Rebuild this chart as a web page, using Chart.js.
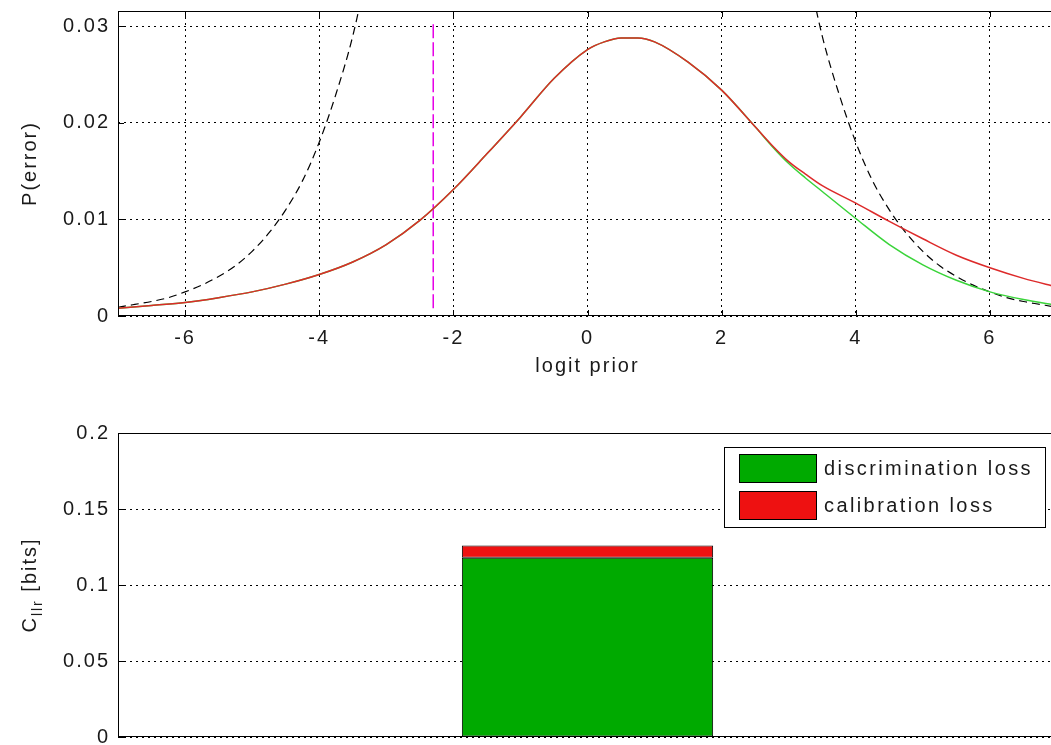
<!DOCTYPE html>
<html>
<head>
<meta charset="utf-8">
<script src="https://cdn.jsdelivr.net/npm/chart.js@4/dist/chart.umd.min.js"></script>
<style>
  html, body { margin: 0; padding: 0; background: #fff; overflow: hidden; }
  body { width: 1051px; height: 745px; position: relative; }
  canvas { position: absolute; left: 0; }
  #top { top: 0; }
  #bottom { top: 390px; }
</style>
</head>
<body>
<canvas id="top" width="1062" height="390"></canvas>
<canvas id="bottom" width="1062" height="355"></canvas>
<script>
// values
const logitPrior = [-7, -6.5, -6, -5.5, -5, -4.5, -4, -3.5, -3, -2.5, -2, -1.5, -1, -0.5, 0,
  0.25, 0.5, 0.75, 1, 1.5, 2, 2.5, 2.75, 3, 3.25, 3.5, 4, 4.5, 5, 5.5, 6, 6.5, 7];
const actualPe = [0.0008, 0.0011, 0.0014, 0.0019, 0.0025, 0.0033, 0.0043, 0.0056, 0.0074, 0.0099,
  0.0131, 0.0168, 0.0206, 0.0246, 0.0276,
  0.0284, 0.0288, 0.0288, 0.0284, 0.0263, 0.0234, 0.0196, 0.0177, 0.0160, 0.0147, 0.0135,
  0.0117, 0.0098, 0.0080, 0.0063, 0.0050, 0.0039, 0.0030];
const minPe = [0.0008, 0.0011, 0.0014, 0.0019, 0.0025, 0.0033, 0.0043, 0.0056, 0.0074, 0.0099,
  0.0131, 0.0168, 0.0206, 0.0246, 0.0276,
  0.0284, 0.0288, 0.0288, 0.0284, 0.0263, 0.0234, 0.0196, 0.0176, 0.0158, 0.0143, 0.0129,
  0.0101, 0.0074, 0.0053, 0.0037, 0.0025, 0.0017, 0.0011];
const defaultX = [-7, -6.75, -6.5, -6.25, -6, -5.75, -5.5, -5.25, -5, -4.75, -4.5, -4.25, -4, -3.75, -3.5, -3.25,
  0, 3.25, 3.5, 3.75, 4, 4.25, 4.5, 4.75, 5, 5.25, 5.5, 5.75, 6, 6.25, 6.5, 6.75, 7];
const defaultPe = [0.0009, 0.0012, 0.0015, 0.0019, 0.0025, 0.0032, 0.0041, 0.0052, 0.0067, 0.0086, 0.011, 0.014, 0.018, 0.023, 0.029, 0.037,
  null, 0.037, 0.029, 0.023, 0.018, 0.014, 0.011, 0.0086, 0.0067, 0.0052, 0.0041, 0.0032, 0.0025, 0.0019, 0.0015, 0.0012, 0.0009];
const thresholdX = -2.3;
const thresholdSpan = [0.0008, 0.0306];
const xTicksTop = [-6, -4, -2, 0, 2, 4, 6];
const yTicksTop = [0, 0.01, 0.02, 0.03];

const lossLabels = ['discrimination loss', 'calibration loss'];
const discriminationLoss = [0.118];
const calibrationLoss = [0.008];
const yTicksBottom = [0, 0.05, 0.1, 0.15, 0.2];
const bottomTitle = ['C', 'llr', ' [bits]'];

const FONT = "'Liberation Sans', Arial, sans-serif";
const SPACING = '2px';
const INK = '#1a1a1a';

Chart.defaults.font.family = FONT;
Chart.defaults.font.size = 20;
Chart.defaults.color = INK;

const pts = (xs, ys) => xs.map((x, i) => ({ x, y: ys[i] }));
const fixTicks = (vals) => (scale) => { scale.ticks = vals.map((v) => ({ value: v })); };
// fixed axis width, and no extra room for the end labels
const fitY = (s) => { s.width = 118; s.paddingTop = 0; s.paddingBottom = 0; };

// the old figure's text is spaced out a bit
const spacing = {
  id: 'spacing',
  beforeLayout(c) { c.ctx.letterSpacing = SPACING; },
  beforeDraw(c) { c.ctx.letterSpacing = SPACING; },
};

// matlab style box: full frame plus inward ticks on all sides
const boxAxes = {
  id: 'boxAxes',
  afterDatasetsDraw(c, args, opts) {
    const { ctx, chartArea: a } = c;
    const len = 6;
    ctx.save();
    ctx.setLineDash([]);
    ctx.strokeStyle = '#000';
    ctx.lineWidth = 1;
    ctx.strokeRect(a.left + 0.5, a.top + 0.5, a.right - a.left - 1, a.bottom - a.top - 1);
    ctx.beginPath();
    if (opts.xTicks) {
      c.scales.x.ticks.forEach((t) => {
        const px = Math.round(c.scales.x.getPixelForValue(t.value)) + 0.5;
        ctx.moveTo(px, a.bottom); ctx.lineTo(px, a.bottom - len);
        ctx.moveTo(px, a.top); ctx.lineTo(px, a.top + len);
      });
    }
    c.scales.y.ticks.forEach((t) => {
      const py = Math.round(c.scales.y.getPixelForValue(t.value)) + 0.5;
      ctx.moveTo(a.left, py); ctx.lineTo(a.left + len, py);
      ctx.moveTo(a.right, py); ctx.lineTo(a.right - len, py);
    });
    ctx.stroke();
    ctx.restore();
  },
};

// legend box in the upper right corner of the axes
const boxLegend = {
  id: 'boxLegend',
  afterDraw(c) {
    const { ctx, chartArea: a } = c;
    const sets = c.data.datasets;
    ctx.save();
    ctx.font = '20px ' + FONT;
    ctx.letterSpacing = '2.4px';
    const textW = Math.max(...sets.map((d) => ctx.measureText(d.label).width));
    const swW = 77, swH = 28, rowH = 37, padL = 15, gap = 8, padR = 12, padT = 7, padB = 8;
    const w = padL + swW + gap + textW + padR;
    const h = padT + rowH * (sets.length - 1) + swH + padB;
    const right = a.right - 12;
    const left = right - w;
    const top = a.top + 14;
    ctx.fillStyle = '#fff';
    ctx.fillRect(left, top, w, h);
    ctx.strokeStyle = '#000';
    ctx.lineWidth = 1;
    ctx.strokeRect(Math.round(left) + 0.5, top + 0.5, Math.round(w), h);
    sets.forEach((d, i) => {
      const y = top + padT + i * rowH;
      ctx.fillStyle = d.backgroundColor;
      ctx.fillRect(left + padL, y, swW, swH);
      ctx.strokeRect(Math.round(left + padL) + 0.5, y + 0.5, swW, swH);
      ctx.fillStyle = INK;
      ctx.textBaseline = 'middle';
      ctx.fillText(d.label, left + padL + swW + gap, y + swH / 2 + 1);
    });
    ctx.restore();
  },
};

// rotated y title with a subscript
const subTitle = {
  id: 'subTitle',
  afterDraw(c) {
    const { ctx, chartArea: a } = c;
    const [base, sub, rest] = bottomTitle;
    ctx.save();
    ctx.translate(36, (a.top + a.bottom) / 2);
    ctx.rotate(-Math.PI / 2);
    ctx.fillStyle = INK;
    ctx.letterSpacing = SPACING;
    ctx.textBaseline = 'alphabetic';
    ctx.font = '20px ' + FONT;
    const wBase = ctx.measureText(base).width;
    const wRest = ctx.measureText(rest).width;
    ctx.font = '14px ' + FONT;
    const wSub = ctx.measureText(sub).width;
    let x = -(wBase + wSub + wRest) / 2;
    ctx.font = '20px ' + FONT;
    ctx.fillText(base, x, 0);
    x += wBase;
    ctx.font = '14px ' + FONT;
    ctx.fillText(sub, x, 6);
    x += wSub;
    ctx.font = '20px ' + FONT;
    ctx.fillText(rest, x, 0);
    ctx.restore();
  },
};

const dotted = { display: false, dash: [2, 4] };
const gridStyle = { color: '#000', lineWidth: 1, drawTicks: false };

new Chart(document.getElementById('top'), {
  type: 'line',
  data: {
    datasets: [
      { label: 'actual', data: pts(logitPrior, actualPe), borderColor: '#dd2a2a', borderWidth: 1.5 },
      { label: 'minimum', data: pts(logitPrior, minPe), borderColor: '#3ad43a', borderWidth: 1.5 },
      { label: 'default', data: pts(defaultX, defaultPe), borderColor: '#000', borderWidth: 1.2, borderDash: [8, 5] },
      { label: 'threshold', data: pts([thresholdX, thresholdX], thresholdSpan),
        borderColor: '#e600e6', borderWidth: 1.5, borderDash: [14, 4], cubicInterpolationMode: 'default', tension: 0 },
    ],
  },
  options: {
    responsive: false,
    animation: false,
    cubicInterpolationMode: 'monotone',
    elements: { point: { radius: 0 } },
    layout: { padding: { top: 11, left: 0, right: 5, bottom: 0 } },
    plugins: { legend: { display: false }, tooltip: { enabled: false }, boxAxes: { xTicks: true } },
    scales: {
      x: {
        type: 'linear',
        min: -7,
        max: 7,
        afterBuildTicks: fixTicks(xTicksTop),
        afterFit: (s) => { s.height = 74; s.paddingLeft = 0; s.paddingRight = 0; },
        ticks: { padding: 10, callback: (v) => String(v) },
        grid: gridStyle,
        border: dotted,
        title: { display: true, text: 'logit prior', padding: { top: 0, bottom: 12 } },
      },
      y: {
        min: 0,
        max: 0.0316,
        afterBuildTicks: fixTicks(yTicksTop),
        afterFit: fitY,
        ticks: { padding: 8, callback: (v) => String(v) },
        grid: gridStyle,
        border: dotted,
        title: { display: true, text: 'P(error)', padding: { top: 18, bottom: 0 } },
      },
    },
  },
  plugins: [spacing, boxAxes],
});

new Chart(document.getElementById('bottom'), {
  type: 'bar',
  data: {
    labels: [''],
    datasets: [
      { label: lossLabels[0], data: discriminationLoss, backgroundColor: '#00aa00' },
      { label: lossLabels[1], data: calibrationLoss, backgroundColor: '#ee1111' },
    ],
  },
  options: {
    responsive: false,
    animation: false,
    datasets: { bar: { borderColor: '#000', borderWidth: 1, borderSkipped: false, barPercentage: 1, categoryPercentage: 0.2676 } },
    layout: { padding: { top: 43, left: 0, right: 5, bottom: 8 } },
    plugins: { legend: { display: false }, tooltip: { enabled: false }, boxAxes: { xTicks: false } },
    scales: {
      x: { stacked: true, display: false },
      y: {
        stacked: true,
        min: 0,
        max: 0.2,
        afterBuildTicks: fixTicks(yTicksBottom),
        afterFit: fitY,
        ticks: { padding: 8, callback: (v) => String(v) },
        grid: gridStyle,
        border: dotted,
      },
    },
  },
  plugins: [spacing, boxAxes, subTitle, boxLegend],
});
</script>
</body>
</html>
